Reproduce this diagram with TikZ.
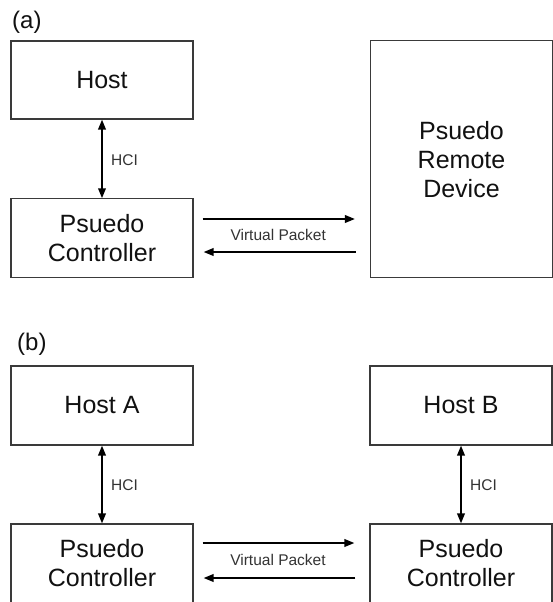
\documentclass[tikz,border=0pt]{standalone}
\usepackage{fontspec}
\setmainfont{Liberation Sans}
\usetikzlibrary{arrows.meta,calc}
\definecolor{boxline}{HTML}{3A3A3A}
\definecolor{txt}{HTML}{111111}
\definecolor{smalltxt}{HTML}{333333}
\tikzset{
  box/.style={draw=boxline, line width=1.1pt, fill=white, inner sep=0pt,
    minimum width=182pt, align=center, text=txt,
    font=\fontsize{25}{29}\selectfont},
  arr/.style={line width=2pt, draw=black, -{Triangle[length=10pt,width=7.5pt]}},
  darr/.style={line width=2pt, draw=black, {Triangle[length=10pt,width=7.5pt]}-{Triangle[length=10pt,width=7.5pt]}},
  small/.style={font=\fontsize{15.5}{18}\selectfont, text=smalltxt, inner sep=0pt},
  panel/.style={font=\fontsize{24}{28}\selectfont, text=txt, inner sep=0pt, anchor=base west}
}
\begin{document}
\begin{tikzpicture}[x=1pt,y=-1pt]
\useasboundingbox[fill=white] (0,0) rectangle (552,602);

% ---------- (a) ----------
\node[panel] (la) at (12,29) {(a)};
\node[box, minimum height=78pt] (ha) at (102,80) {Host};
\node[box, minimum height=79pt] (ca) at (102,238.3) {Psuedo\\Controller};
\node[box, minimum height=236.5pt] (rd) at (461.5,159.2) {Psuedo\\Remote\\Device};

\draw[darr] (ha.south) -- (ca.north);
\node[small, anchor=west] (hcia) at ($(ha.south)!0.5!(ca.north)+(9,1)$) {HCI};

\coordinate (a1) at ($(ca.east)+(9,-19.3)$);
\coordinate (a2) at ($(ca.east -| rd.west)+(-15,-19.3)$);
\coordinate (a3) at ($(ca.east -| rd.west)+(-14,13.7)$);
\coordinate (a4) at ($(ca.east)+(10,13.7)$);
\draw[arr] (a1) -- (a2);
\draw[arr] (a3) -- (a4);
\node[small] (vpa) at ($(ca.east)!0.5!(ca.east -| rd.west)+(-3.5,-3)$) {Virtual Packet};

% ---------- (b) ----------
\node[panel] (lb) at (17,350.5) {(b)};
\node[box, minimum height=79pt] (hA) at (102,405.5) {Host A};
\node[box, minimum height=79pt] (hB) at (461,405.5) {Host B};
\node[box, minimum height=79pt] (cA) at (102,563.5) {Psuedo\\Controller};
\node[box, minimum height=79pt] (cB) at (461,563.5) {Psuedo\\Controller};

\draw[darr] (hA.south) -- (cA.north);
\draw[darr] (hB.south) -- (cB.north);
\node[small, anchor=west] (hcib1) at ($(hA.south)!0.5!(cA.north)+(9,1)$) {HCI};
\node[small, anchor=west] (hcib2) at ($(hB.south)!0.5!(cB.north)+(9,1)$) {HCI};

\coordinate (b1) at ($(cA.east)+(9,-20.5)$);
\coordinate (b2) at ($(cA.east -| cB.west)+(-15,-20.5)$);
\coordinate (b3) at ($(cA.east -| cB.west)+(-14,14.5)$);
\coordinate (b4) at ($(cA.east)+(10,14.5)$);
\draw[arr] (b1) -- (b2);
\draw[arr] (b3) -- (b4);
\node[small] (vpb) at ($(cA.east)!0.5!(cA.east -| cB.west)+(-3.5,-3.5)$) {Virtual Packet};
\end{tikzpicture}
\end{document}
